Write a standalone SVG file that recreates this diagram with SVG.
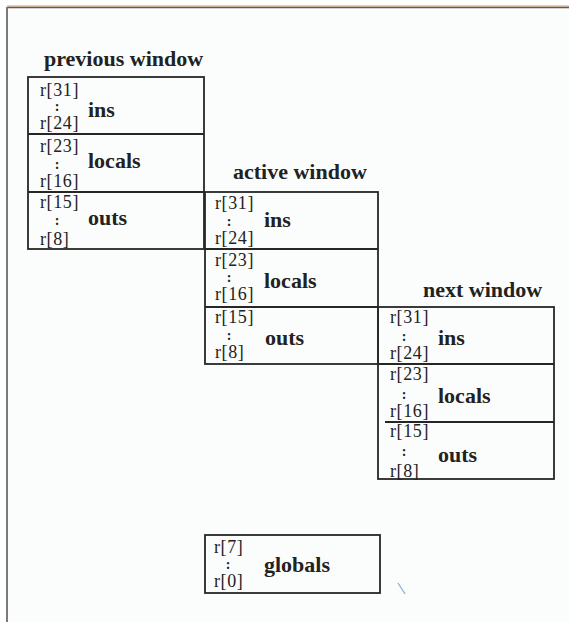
<svg xmlns="http://www.w3.org/2000/svg" width="569" height="622" viewBox="0 0 569 622">
  <style>
    .box { fill: none; stroke: #262626; stroke-width: 1.8; }
    .title, .lbl { font-family: "Liberation Serif", "Times New Roman", serif; font-weight: bold; font-size: 22px; fill: #222; }
    .reg { font-family: "Liberation Serif", "Times New Roman", serif; font-size: 18px; letter-spacing: 0.6px; fill: #222; }
    .dots { font-family: "Liberation Serif", "Times New Roman", serif; font-size: 14px; font-weight: bold; fill: #222; text-anchor: middle; }
  </style>

  <!-- page -->
  <rect x="0" y="0" width="569" height="622" fill="#ffffff"/>
  <rect x="8" y="8" width="561" height="614" fill="#fbfdfd"/>
  <g id="page-frame">
    <line x1="7" y1="6" x2="569" y2="6" stroke="#e0a050" stroke-width="1"/>
    <line x1="7" y1="7.5" x2="569" y2="7.5" stroke="#5a5a66" stroke-width="1.6"/>
    <line x1="7" y1="7" x2="7" y2="622" stroke="#7a7a7a" stroke-width="2"/>
  </g>

  <!-- previous register window -->
  <g id="previous-window">
    <text class="title" x="44" y="66">previous window</text>
    <rect class="box" x="28" y="77" width="176" height="172"/>
    <line class="box" x1="28" y1="134" x2="204" y2="134"/>
    <line class="box" x1="28" y1="192" x2="204" y2="192"/>
    <text class="reg" x="40" y="96">r[31]</text>
    <text class="dots" x="57" y="111">:</text>
    <text class="reg" x="40" y="129">r[24]</text>
    <text class="lbl" x="88" y="117">ins</text>
    <text class="reg" x="40" y="152">r[23]</text>
    <text class="dots" x="57" y="169">:</text>
    <text class="reg" x="40" y="187">r[16]</text>
    <text class="lbl" x="88" y="168">locals</text>
    <text class="reg" x="40" y="208">r[15]</text>
    <text class="dots" x="57" y="225">:</text>
    <text class="reg" x="40" y="245">r[8]</text>
    <text class="lbl" x="88" y="225">outs</text>
  </g>

  <!-- active register window -->
  <g id="active-window">
    <text class="title" x="233" y="179">active window</text>
    <rect class="box" x="205" y="192" width="173" height="172"/>
    <line class="box" x1="205" y1="249" x2="378" y2="249"/>
    <line class="box" x1="205" y1="307" x2="378" y2="307"/>
    <text class="reg" x="215" y="209">r[31]</text>
    <text class="dots" x="229" y="226">:</text>
    <text class="reg" x="215" y="244">r[24]</text>
    <text class="lbl" x="264" y="227">ins</text>
    <text class="reg" x="215" y="266">r[23]</text>
    <text class="dots" x="229" y="282">:</text>
    <text class="reg" x="215" y="300">r[16]</text>
    <text class="lbl" x="264" y="288">locals</text>
    <text class="reg" x="215" y="323">r[15]</text>
    <text class="dots" x="229" y="340">:</text>
    <text class="reg" x="215" y="358">r[8]</text>
    <text class="lbl" x="265" y="345">outs</text>
  </g>

  <!-- next register window -->
  <g id="next-window">
    <text class="title" x="423" y="297">next window</text>
    <rect class="box" x="378" y="307" width="176" height="172"/>
    <line class="box" x1="378" y1="364" x2="554" y2="364"/>
    <line class="box" x1="385" y1="422" x2="554" y2="422"/>
    <text class="reg" x="390" y="323">r[31]</text>
    <text class="dots" x="404" y="341">:</text>
    <text class="reg" x="390" y="359">r[24]</text>
    <text class="lbl" x="438" y="345">ins</text>
    <text class="reg" x="390" y="380">r[23]</text>
    <text class="dots" x="404" y="399">:</text>
    <text class="reg" x="390" y="417">r[16]</text>
    <text class="lbl" x="438" y="403">locals</text>
    <text class="reg" x="390" y="437">r[15]</text>
    <text class="dots" x="404" y="456">:</text>
    <text class="reg" x="390" y="477">r[8]</text>
    <text class="lbl" x="438" y="462">outs</text>
  </g>

  <!-- global registers -->
  <g id="globals">
    <rect class="box" x="205" y="535" width="175" height="58"/>
    <text class="reg" x="214" y="553">r[7]</text>
    <text class="dots" x="228" y="569">:</text>
    <text class="reg" x="214" y="587">r[0]</text>
    <text class="lbl" x="264" y="572">globals</text>
  </g>

  <!-- no connectors: windows share their boundary rows -->
  <g id="connectors"/>

  <!-- pen mark -->
  <line x1="398" y1="583" x2="405" y2="594" stroke="#5a8fc8" stroke-width="1.3" opacity="0.7"/>
</svg>
